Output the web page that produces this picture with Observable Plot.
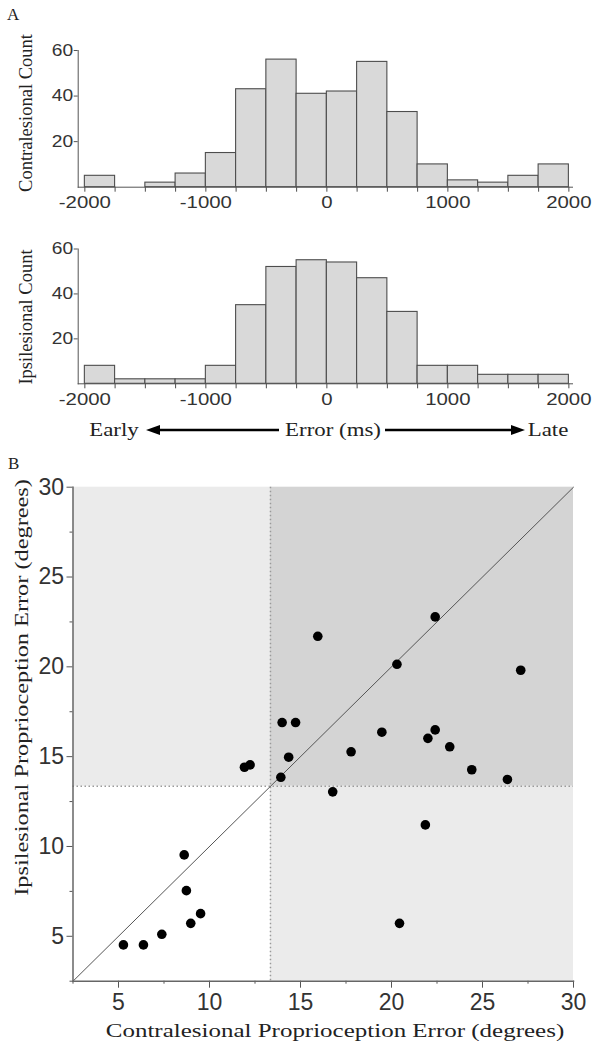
<!DOCTYPE html>
<html><head><meta charset="utf-8">
<script src="https://cdn.jsdelivr.net/npm/d3@7"></script>
<script src="https://cdn.jsdelivr.net/npm/@observablehq/plot@0.6"></script>
<style>
body{margin:0;background:#fff;}
#wrap{position:relative;width:600px;height:1050px;overflow:hidden;background:#fff;}
.abs{position:absolute;white-space:nowrap;line-height:1;}
.serif{font-family:"Liberation Serif","Times New Roman",serif;color:#222;}
svg{position:absolute;left:0;}
</style></head><body><div id="wrap"></div>
<script>
// ---------- Panel A data (histograms of timing error, 250 ms bins) ----------
const binStarts = [-2000,-1750,-1500,-1250,-1000,-750,-500,-250,0,250,500,750,1000,1250,1500,1750];
const binWidth = 250;
const contraCounts = [5,0,2,6,15,43,56,41,42,55,33,10,3,2,5,10];
const ipsiCounts   = [8,2,2,2,8,35,52,55,54,47,32,8,8,4,4,4];
const binEdgeTicks = [-2000,-1750,-1500,-1250,-1000,-750,-500,-250,0,250,500,750,1000,1250,1500,1750,2000];
const errorTickLabels = [-2000,-1000,0,1000,2000];
const countTicks = [20,40,60];

// ---------- Panel B data (proprioception error, degrees) ----------
const contraError = [15.95,22.4,20.3,27.1,13.99,14.73,19.47,22.4,22.0,23.2,17.78,14.35,11.92,12.23,13.92,24.41,26.37,16.77,21.86,20.44,8.61,8.73,8.97,9.51,7.38,5.27,6.37];
const ipsiError   = [21.70,22.78,20.14,19.81,16.90,16.90,16.36,16.49,16.02,15.55,15.27,14.97,14.41,14.54,13.85,14.27,13.73,13.04,11.20,5.72,9.53,7.54,5.72,6.26,5.11,4.52,4.52];
const cutoff = 13.35;
const degMin = 2.5, degMax = 30;
const degMajorTicks = [5,10,15,20,25,30];
const degMinorTicks = [2.5,7.5,12.5,17.5,22.5,27.5];

const wrap = document.getElementById("wrap");
const sans = "'Liberation Sans', Arial, Helvetica, sans-serif";

function stretchText(svg, k){
  d3.select(svg).selectAll("g[aria-label$='tick label'] text").each(function(){
    const t = this.getAttribute("transform") || "";
    this.setAttribute("transform", t + ` scale(${k},1)`);
  });
}

function hist(counts, top, height, mt, mb){
  const bins = binStarts.map((x0,i)=>({x1:x0, x2:x0+binWidth, n:counts[i]})).filter(d=>d.n>0);
  const svg = Plot.plot({
    width:600, height, marginLeft:77.7, marginRight:28, marginTop:mt, marginBottom:mb,
    x:{domain:[-2055,2030]},
    y:{domain:[0,60]},
    style:{fontFamily:sans, color:"#333", background:"transparent", overflow:"visible"},
    marks:[
      Plot.rectY(bins, {x1:"x1", x2:"x2", y:"n", fill:"#d9d9d9", stroke:"#4d4d4d", strokeWidth:1.1}),
      Plot.axisX({ticks:binEdgeTicks, tickSize:5, tickPadding:4, stroke:"#4d4d4d",
        tickFormat:d=>errorTickLabels.includes(d)?String(d):"", fontSize:17, label:null}),
      Plot.axisY({ticks:countTicks, tickSize:4, tickPadding:1, stroke:"#555", fontSize:16, label:null}),
      Plot.frame({anchor:"left", stroke:"#555"}),
      Plot.frame({anchor:"bottom", stroke:"#555"})
    ]
  });
  svg.style.top = top+"px";
  stretchText(svg, 1.2);
  wrap.appendChild(svg);
}

hist(contraCounts, 0, 220, 50, 33.3);
hist(ipsiCounts, 220, 220, 28.5, 56.7);

// scatter
const pts = contraError.map((c,i)=>({c, p:ipsiError[i]}));
const quadrants = [
  {x1:degMin, x2:cutoff, y1:cutoff, y2:degMax, shade:"#ebebeb"},
  {x1:cutoff, x2:degMax, y1:cutoff, y2:degMax, shade:"#d4d4d4"},
  {x1:cutoff, x2:degMax, y1:degMin, y2:cutoff, shade:"#ebebeb"}
];
const diag = [degMin, degMax];
const sc = Plot.plot({
  width:600, height:610, marginLeft:72.5, marginRight:27, marginTop:46.7, marginBottom:69.3,
  x:{domain:[degMin,degMax]}, y:{domain:[degMin,degMax]},
  color:{type:"identity"},
  style:{fontFamily:sans, color:"#333", background:"transparent", overflow:"visible"},
  marks:[
    Plot.rect(quadrants, {x1:"x1", x2:"x2", y1:"y1", y2:"y2", fill:"shade"}),
    Plot.ruleX([cutoff], {stroke:"#9a9a9a", strokeWidth:1.5, strokeDasharray:"1.5,2.5"}),
    Plot.ruleY([cutoff], {stroke:"#9a9a9a", strokeWidth:1.5, strokeDasharray:"1.5,2.5"}),
    Plot.line(diag, {x:d=>d, y:d=>d, stroke:"#555", strokeWidth:1}),
    Plot.dot(pts, {x:"c", y:"p", r:4.8, fill:"#000", stroke:"none"}),
    Plot.axisX({ticks:degMinorTicks, tickSize:3, tickFormat:()=>"", stroke:"#555", label:null}),
    Plot.axisX({ticks:degMajorTicks, tickSize:7, tickPadding:5, stroke:"#555", fontSize:23, label:null}),
    Plot.axisY({ticks:degMinorTicks, tickSize:3, tickFormat:()=>"", stroke:"#555", label:null}),
    Plot.axisY({ticks:degMajorTicks, tickSize:6, tickPadding:3, stroke:"#555", fontSize:23, label:null}),
    Plot.frame({anchor:"left", stroke:"#666", strokeWidth:1.5}),
    Plot.frame({anchor:"bottom", stroke:"#666", strokeWidth:1.5})
  ]
});
sc.style.top = "440px";
wrap.appendChild(sc);

// ---------- text annotations ----------
function addText(txt, opts){
  const d = document.createElement("div");
  d.className = "abs serif";
  d.textContent = txt;
  d.style.fontSize = opts.fs+"px";
  d.style.left = opts.x+"px";
  d.style.top = (opts.baseline - 0.8375*opts.fs)+"px";
  d.style.transformOrigin = "50% 50%";
  d.style.transform = opts.transform || "";
  wrap.appendChild(d);
  return d;
}
function addRotated(txt, cx, cy, fs, k){
  const d = document.createElement("div");
  d.className = "abs serif";
  d.textContent = txt;
  d.style.fontSize = fs+"px";
  d.style.left = cx+"px";
  d.style.top = cy+"px";
  d.style.transformOrigin = "0 0";
  d.style.transform = `rotate(-90deg) translate(-50%,-50%) scale(${k},1)`;
  wrap.appendChild(d);
}
addText("A", {fs:17, x:7, baseline:20});
addText("B", {fs:17, x:8, baseline:469});
addRotated("Contralesional Count", 26, 113, 18.5, 1.0);
addRotated("Ipsilesional Count", 26, 317, 18.5, 1.0);
addRotated("Ipsilesional Proprioception Error (degrees)", 21, 733, 19, 1.28);
addText("Contralesional Proprioception Error (degrees)", {fs:18.5, x:334.5, baseline:1037, transform:"translateX(-50%) scaleX(1.35)"});
addText("Early", {fs:18, x:114, baseline:436, transform:"translateX(-50%) scaleX(1.27)"});
addText("Error (ms)", {fs:18, x:333, baseline:436, transform:"translateX(-50%) scaleX(1.27)"});
addText("Late", {fs:18, x:548, baseline:436, transform:"translateX(-50%) scaleX(1.27)"});

// arrows under panel A
const arr = d3.select(wrap).append("svg").attr("width",600).attr("height",30).style("top","415px");
const ay = 15;
arr.append("line").attr("x1",156).attr("x2",279).attr("y1",ay).attr("y2",ay).attr("stroke","#000").attr("stroke-width",2.5);
arr.append("path").attr("d",`M146,${ay} L160,${ay-5} L160,${ay+5} Z`).attr("fill","#000");
arr.append("line").attr("x1",385).attr("x2",512).attr("y1",ay).attr("y2",ay).attr("stroke","#000").attr("stroke-width",2.5);
arr.append("path").attr("d",`M525,${ay} L511,${ay-5} L511,${ay+5} Z`).attr("fill","#000");
</script></body></html>
